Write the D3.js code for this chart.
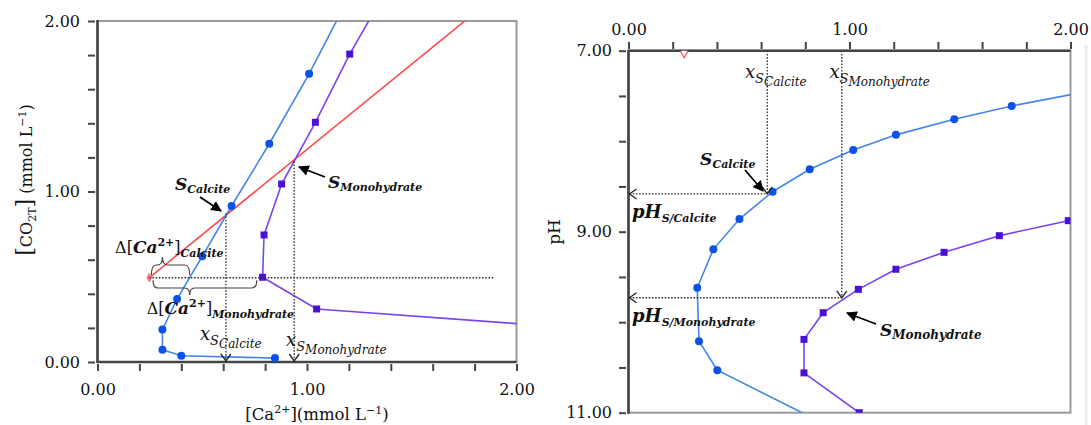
<!DOCTYPE html>
<html>
<head>
<meta charset="utf-8">
<script src="https://cdn.jsdelivr.net/npm/d3@7"></script>
<style>
  body { margin: 0; background: #fff; }
  svg text { font-family: "DejaVu Serif", serif; fill: #111; }
</style>
</head>
<body>
<div id="chart"></div>
<script>
// left panel: [CO2T] vs [Ca2+]
var calciteCa  = [0.847, 0.40, 0.31, 0.31, 0.38, 0.50, 0.64, 0.82, 1.01, 1.20];
var calciteCO2 = [0.023, 0.037, 0.072, 0.19, 0.37, 0.62, 0.915, 1.28, 1.69, 2.14];
var monoCa     = [2.10, 1.046, 0.788, 0.795, 0.879, 1.04, 1.204, 1.36];
var monoCO2    = [0.216, 0.311, 0.497, 0.745, 1.044, 1.406, 1.806, 2.14];
var redCa      = [0.247, 1.90];
var redCO2     = [0.494, 2.147];

// right panel: pH vs x
var phCalciteX  = [0.90, 0.402, 0.319, 0.311, 0.384, 0.502, 0.652, 0.82, 1.017, 1.21, 1.474, 1.734, 2.10];
var phCalcitePH = [11.14, 10.53, 10.21, 9.62, 9.195, 8.86, 8.558, 8.31, 8.097, 7.93, 7.758, 7.611, 7.44];
var phMonoX     = [1.044, 0.794, 0.794, 0.881, 1.04, 1.21, 1.428, 1.678, 1.99];
var phMonoPH    = [11.0, 10.56, 10.19, 9.895, 9.637, 9.415, 9.228, 9.044, 8.878];
var phRedX      = [0.252];
var phRedPH     = [7.0];

var tickValsLeft = d3.range(0, 2.001, 0.2);
var tickValsPH   = d3.range(7, 11.001, 0.5);
var labelTicks   = {"0": "0.00", "1": "1.00", "2": "2.00"};
var labelTicksPH = {"7": "7.00", "9": "9.00", "11": "11.00"};

var blueLine = "#4384ee", blueDot = "#0b52e6";
var purpLine = "#7a42f0", purpDot = "#4a10d8";
var redLine = "#ff4a4a";

var W = 1091, H = 425;
var svg = d3.select("#chart").append("svg").attr("width", W).attr("height", H);

var defs = svg.append("defs");
defs.append("marker").attr("id", "solidArrow")
    .attr("viewBox", "0 0 10 10").attr("refX", 9).attr("refY", 5)
    .attr("markerWidth", 6).attr("markerHeight", 6).attr("orient", "auto")
    .attr("markerUnits", "strokeWidth")
  .append("path").attr("d", "M0,0 L10,5 L0,10 z").attr("fill", "#000");

var xL = d3.scaleLinear().domain([0, 2]).range([97.5, 516.5]);
var yL = d3.scaleLinear().domain([0, 2]).range([362, 21]);
var xR = d3.scaleLinear().domain([0, 2]).range([628.5, 1070.5]);
var yR = d3.scaleLinear().domain([7, 11]).range([50.7, 412.7]);

defs.append("clipPath").attr("id", "clipL").append("rect")
    .attr("x", xL(0)).attr("y", yL(2)).attr("width", xL(2) - xL(0)).attr("height", yL(0) - yL(2));
defs.append("clipPath").attr("id", "clipR").append("rect")
    .attr("x", xR(0)).attr("y", yR(7)).attr("width", xR(2) - xR(0)).attr("height", yR(11) - yR(7));

function zip(a, b) { return a.map(function(v, i) { return [v, b[i]]; }); }

// rich text with sub/superscripts
function rich(g, x, y, parts, rot) {
    var t = g.append("text").attr("x", x).attr("y", y);
    if (rot) t.attr("transform", rot);
    parts.forEach(function(p) {
        t.append("tspan")
            .attr("dy", p.dy || 0)
            .style("font-size", p.s + "px")
            .style("font-weight", p.b ? "bold" : "normal")
            .style("font-style", p.i ? "italic" : "normal")
            .text(p.t);
    });
    return t;
}

function openHead(g, x, y, dir) {
    var s = 5, p;
    if (dir == "down") p = [[x - s, y - 7], [x, y], [x + s, y - 7]];
    else p = [[x + 7, y - s], [x, y], [x + 7, y + s]];
    g.append("path").attr("d", d3.line()(p)).attr("fill", "none")
        .attr("stroke", "#222").attr("stroke-width", 1.3);
}

function dotted(g, x1, y1, x2, y2) {
    g.append("line").attr("x1", x1).attr("y1", y1).attr("x2", x2).attr("y2", y2)
        .attr("stroke", "#333").attr("stroke-width", 1.3).attr("stroke-dasharray", "1.6,1.6");
}

function brace(g, x1, x2, xm, y0, ya, yt) {
    var r = 5;
    var d = "M" + x1 + "," + y0 +
        " Q" + x1 + "," + ya + " " + (x1 + r) + "," + ya +
        " L" + (xm - r) + "," + ya +
        " Q" + xm + "," + ya + " " + xm + "," + yt +
        " Q" + xm + "," + ya + " " + (xm + r) + "," + ya +
        " L" + (x2 - r) + "," + ya +
        " Q" + x2 + "," + ya + " " + x2 + "," + y0;
    g.append("path").attr("d", d).attr("fill", "none").attr("stroke", "#444").attr("stroke-width", 1.2);
}

function solidArrow(g, x1, y1, x2, y2) {
    g.append("line").attr("x1", x1).attr("y1", y1).attr("x2", x2).attr("y2", y2)
        .attr("stroke", "#000").attr("stroke-width", 1.8).attr("marker-end", "url(#solidArrow)");
}

function axisStyle(g) {
    g.select(".domain").remove();
    g.selectAll(".tick line").attr("stroke", "#444").attr("stroke-width", 2);
    g.selectAll(".tick text").style("font-size", "16px").style("font-family", "DejaVu Serif").attr("fill", "#111");
}

// ---------------- left panel ----------------
var gL = svg.append("g");

gL.append("rect").attr("x", xL(0)).attr("y", yL(2))
    .attr("width", xL(2) - xL(0)).attr("height", yL(0) - yL(2))
    .attr("fill", "none").attr("stroke", "#9a9a9a").attr("stroke-width", 2);

gL.append("g").attr("transform", "translate(95,0)")
    .call(d3.axisLeft(yL).tickValues(tickValsLeft).tickSize(7).tickPadding(8)
        .tickFormat(function(d) { return labelTicks[Math.round(d * 100) / 100] || ""; }))
    .call(axisStyle);
gL.append("g").attr("transform", "translate(0,364)")
    .call(d3.axisBottom(xL).tickValues(tickValsLeft).tickSize(7).tickPadding(13)
        .tickFormat(function(d) { return labelTicks[Math.round(d * 100) / 100] || ""; }))
    .call(axisStyle);

gL.append("line").attr("x1", xL(0)).attr("x2", xL(0)).attr("y1", yL(2) - 1).attr("y2", yL(0) + 1)
    .attr("stroke", "#444").attr("stroke-width", 2.6);
gL.append("line").attr("x1", xL(0)).attr("x2", xL(2)).attr("y1", yL(0)).attr("y2", yL(0))
    .attr("stroke", "#444").attr("stroke-width", 2.6);

var lineL = d3.line().x(function(d) { return xL(d[0]); }).y(function(d) { return yL(d[1]); });
var plotL = gL.append("g").attr("clip-path", "url(#clipL)");

// dotted guides
var sCalL = [0.613, 0.872], sMonoL = [0.939, 1.177];
dotted(gL, xL(redCa[0]), yL(redCO2[0]), xL(1.89), yL(redCO2[0]));
dotted(gL, xL(sCalL[0]), yL(sCalL[1]), xL(sCalL[0]), yL(0) - 1);
dotted(gL, xL(sMonoL[0]), yL(sMonoL[1]), xL(sMonoL[0]), yL(0) - 1);
openHead(gL, xL(sCalL[0]), yL(0) - 1, "down");
openHead(gL, xL(sMonoL[0]), yL(0) - 1, "down");

plotL.append("path").datum(zip(redCa, redCO2)).attr("d", lineL)
    .attr("fill", "none").attr("stroke", redLine).attr("stroke-width", 1.6);
plotL.append("path").datum(zip(calciteCa, calciteCO2)).attr("d", lineL)
    .attr("fill", "none").attr("stroke", blueLine).attr("stroke-width", 1.6);
plotL.append("path").datum(zip(monoCa, monoCO2)).attr("d", lineL)
    .attr("fill", "none").attr("stroke", purpLine).attr("stroke-width", 1.6);

plotL.append("path")
    .attr("d", d3.symbol().type(d3.symbolDiamond).size(30)())
    .attr("transform", "translate(" + xL(redCa[0]) + "," + yL(redCO2[0]) + ")")
    .attr("fill", "#ff7a7a");
plotL.selectAll(".dotC").data(zip(calciteCa, calciteCO2)).enter().append("circle")
    .attr("cx", function(d) { return xL(d[0]); }).attr("cy", function(d) { return yL(d[1]); })
    .attr("r", 4).attr("fill", blueDot);
plotL.selectAll(".dotM").data(zip(monoCa, monoCO2)).enter().append("rect")
    .attr("x", function(d) { return xL(d[0]) - 3.5; }).attr("y", function(d) { return yL(d[1]) - 3.5; })
    .attr("width", 7).attr("height", 7).attr("fill", purpDot);

// braces
brace(gL, xL(0.257), xL(0.44), xL(0.31), yL(0.51), yL(0.569), yL(0.616));
brace(gL, xL(0.265), xL(0.76), xL(0.44), yL(0.48), yL(0.434), yL(0.393));

// annotations left
rich(gL, xL(0.084), yL(0.639), [
    {t: "Δ[", s: 16}, {t: "Ca", s: 17, b: 1, i: 1}, {t: "2+", s: 11, b: 1, dy: -7},
    {t: "]", s: 16, dy: 7}, {t: "Calcite", s: 11, b: 1, i: 1, dy: 4}]);
rich(gL, xL(0.235), yL(0.282), [
    {t: "Δ[", s: 16}, {t: "Ca", s: 17, b: 1, i: 1}, {t: "2+", s: 11, b: 1, dy: -7},
    {t: "]", s: 16, dy: 7}, {t: "Monohydrate", s: 11, b: 1, i: 1, dy: 4}]);
rich(gL, xL(0.37), yL(1.009), [
    {t: "S", s: 17, b: 1, i: 1}, {t: "Calcite", s: 11, b: 1, i: 1, dy: 3}]);
rich(gL, xL(1.10), yL(1.02), [
    {t: "S", s: 17, b: 1, i: 1}, {t: "Monohydrate", s: 11, b: 1, i: 1, dy: 3}]);
rich(gL, xL(0.489), yL(0.129), [
    {t: "x", s: 18, i: 1}, {t: "S", s: 13, i: 1, dy: 5}, {t: "Calcite", s: 12, i: 1, dy: 3}]);
rich(gL, xL(0.90), yL(0.094), [
    {t: "x", s: 18, i: 1}, {t: "S", s: 13, i: 1, dy: 5}, {t: "Monohydrate", s: 12, i: 1, dy: 3}]);
solidArrow(gL, 200, 197, 221, 211);
solidArrow(gL, 325, 177, 299, 167);

// axis titles left
rich(gL, 32, 180, [
    {t: "[", s: 22}, {t: "CO", s: 16}, {t: "2T", s: 11, dy: 4}, {t: "]", s: 22, dy: -4},
    {t: " (mmol L", s: 16}, {t: "−1", s: 11, dy: -6}, {t: ")", s: 16, dy: 6}], "rotate(-90,32,180)")
    .attr("text-anchor", "middle");
rich(gL, 317, 420, [
    {t: "[Ca", s: 16.5}, {t: "2+", s: 11, dy: -7}, {t: "](mmol L", s: 16.5, dy: 7},
    {t: "−1", s: 11, dy: -6}, {t: ")", s: 16.5, dy: 6}]).attr("text-anchor", "middle");

// ---------------- right panel ----------------
var gR = svg.append("g");
gR.append("rect").attr("x", xR(0)).attr("y", yR(7))
    .attr("width", xR(2) - xR(0)).attr("height", yR(11) - yR(7))
    .attr("fill", "none").attr("stroke", "#9a9a9a").attr("stroke-width", 2);
gR.append("line").attr("x1", 1086).attr("x2", 1086).attr("y1", 45).attr("y2", 425)
    .attr("stroke", "#eeeeee").attr("stroke-width", 3);

gR.append("g").attr("transform", "translate(626,0)")
    .call(d3.axisLeft(yR).tickValues(tickValsPH).tickSize(7).tickPadding(7)
        .tickFormat(function(d) { return labelTicksPH[d] || ""; }))
    .call(axisStyle);
gR.append("g").attr("transform", "translate(0,49)")
    .call(d3.axisTop(xR).tickValues(tickValsLeft).tickSize(7).tickPadding(7)
        .tickFormat(function(d) { return labelTicks[Math.round(d * 100) / 100] || ""; }))
    .call(axisStyle);

gR.append("line").attr("x1", xR(0)).attr("x2", xR(0)).attr("y1", yR(7) - 1).attr("y2", yR(11) + 1)
    .attr("stroke", "#444").attr("stroke-width", 2.6);
gR.append("line").attr("x1", xR(0)).attr("x2", xR(2)).attr("y1", yR(7)).attr("y2", yR(7))
    .attr("stroke", "#444").attr("stroke-width", 2.6);

var lineR = d3.line().x(function(d) { return xR(d[0]); }).y(function(d) { return yR(d[1]); });
var plotR = gR.append("g").attr("clip-path", "url(#clipR)");

var sCalR = [0.628, 8.583], sMonoR = [0.965, 9.73];
dotted(gR, xR(sCalR[0]), yR(7), xR(sCalR[0]), yR(sCalR[1]));
dotted(gR, xR(0) + 1, yR(sCalR[1]), xR(sCalR[0]), yR(sCalR[1]));
dotted(gR, xR(sMonoR[0]), yR(7), xR(sMonoR[0]), yR(sMonoR[1]));
dotted(gR, xR(0) + 1, yR(sMonoR[1]), xR(sMonoR[0]), yR(sMonoR[1]));
openHead(gR, xR(sCalR[0]), yR(sCalR[1]), "down");
openHead(gR, xR(0) + 1, yR(sCalR[1]), "left");
openHead(gR, xR(sMonoR[0]), yR(sMonoR[1]), "down");
openHead(gR, xR(0) + 1, yR(sMonoR[1]), "left");

plotR.append("path").datum(zip(phCalciteX, phCalcitePH)).attr("d", lineR)
    .attr("fill", "none").attr("stroke", blueLine).attr("stroke-width", 1.6);
plotR.append("path").datum(zip(phMonoX, phMonoPH)).attr("d", lineR)
    .attr("fill", "none").attr("stroke", purpLine).attr("stroke-width", 1.6);
plotR.selectAll(".dotC").data(zip(phCalciteX, phCalcitePH)).enter().append("circle")
    .attr("cx", function(d) { return xR(d[0]); }).attr("cy", function(d) { return yR(d[1]); })
    .attr("r", 4).attr("fill", blueDot);
plotR.selectAll(".dotM").data(zip(phMonoX, phMonoPH)).enter().append("rect")
    .attr("x", function(d) { return xR(d[0]) - 3.5; }).attr("y", function(d) { return yR(d[1]) - 3.5; })
    .attr("width", 7).attr("height", 7).attr("fill", purpDot);
plotR.selectAll(".dotR").data(zip(phRedX, phRedPH)).enter().append("path")
    .attr("d", d3.symbol().type(d3.symbolDiamond).size(40)())
    .attr("transform", function(d) { return "translate(" + xR(d[0]) + "," + (yR(d[1]) + 1) + ")"; })
    .attr("fill", "#fff").attr("stroke", "#ff5a5a").attr("stroke-width", 1.3);

// annotations right
rich(gR, xR(0.527), yR(7.30), [
    {t: "x", s: 18, i: 1}, {t: "S", s: 13, i: 1, dy: 5}, {t: "Calcite", s: 12, i: 1, dy: 3}]);
rich(gR, xR(0.909), yR(7.30), [
    {t: "x", s: 18, i: 1}, {t: "S", s: 13, i: 1, dy: 5}, {t: "Monohydrate", s: 12, i: 1, dy: 3}]);
rich(gR, xR(0.324), yR(8.263), [
    {t: "S", s: 17, b: 1, i: 1}, {t: "Calcite", s: 11, b: 1, i: 1, dy: 3}]);
rich(gR, xR(1.138), yR(10.152), [
    {t: "S", s: 17, b: 1, i: 1}, {t: "Monohydrate", s: 12, b: 1, i: 1, dy: 3}]);
rich(gR, xR(0.016), yR(8.85), [
    {t: "pH", s: 18, b: 1, i: 1}, {t: "S/Calcite", s: 11, b: 1, i: 1, dy: 4}]);
rich(gR, xR(0.016), yR(9.996), [
    {t: "pH", s: 18, b: 1, i: 1}, {t: "S/Monohydrate", s: 11, b: 1, i: 1, dy: 4}]);
solidArrow(gR, 745, 170, 763, 191);
solidArrow(gR, 876, 324, 847, 313);

rich(gR, 560, 232, [{t: "pH", s: 17}], "rotate(-90,560,232)").attr("text-anchor", "middle");
</script>
</body>
</html>
